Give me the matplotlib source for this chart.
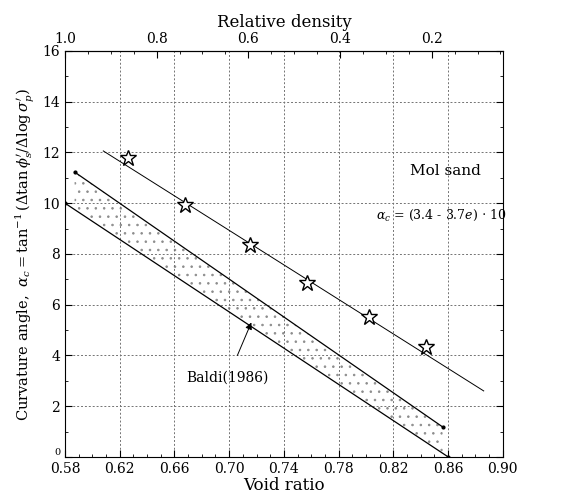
import numpy as np
import matplotlib
matplotlib.use("Agg")
import matplotlib.pyplot as plt
from matplotlib.ticker import MultipleLocator

plt.rcParams['font.family'] = ['DejaVu Serif']
plt.rcParams['mathtext.fontset'] = 'dejavuserif'
plt.rcParams['hatch.color'] = '0.55'
plt.rcParams['hatch.linewidth'] = 0.6

# data
void_ratio_pts = [0.626, 0.668, 0.715, 0.757, 0.802, 0.844]
curv_angle_pts = [11.78, 9.93, 8.35, 6.86, 5.52, 4.33]

mol_fit_e = [0.608, 0.886]
mol_fit_a = [12.06, 2.60]
baldi_upper_e = [0.587, 0.856]
baldi_upper_a = [11.23, 1.18]
baldi_lower_e = [0.580, 0.860]
baldi_lower_a = [10.00, 0.00]

x_ticks = [0.58, 0.62, 0.66, 0.70, 0.74, 0.78, 0.82, 0.86, 0.90]
x_ticklabels = ["0.58", "0.62", "0.66", "0.70", "0.74", "0.78", "0.82", "0.86", "0.90"]
y_ticks = [0, 2, 4, 6, 8, 10, 12, 14, 16]
dr_ticks = [1.0, 0.8, 0.6, 0.4, 0.2]
dr_ticklabels = ["1.0", "0.8", "0.6", "0.4", "0.2"]
e_min, e_max = 0.58, 0.915

fig = plt.figure(figsize=(5.65, 4.95), dpi=100)
ax = fig.add_axes([0.115, 0.077, 0.775, 0.820])

ax.set_xlim(0.58, 0.90)
ax.set_ylim(0, 16)
ax.set_xticks(x_ticks)
ax.set_xticklabels(x_ticklabels)
ax.set_yticks(y_ticks)
ax.xaxis.set_minor_locator(MultipleLocator(0.01))
ax.yaxis.set_minor_locator(MultipleLocator(1))
ax.tick_params(which='both', direction='in', top=False, right=True, labelsize=10)
ax.tick_params(which='major', length=5)
ax.tick_params(which='minor', length=2.5)
ax.grid(True, which='major', color='0.45', linestyle=(0, (2, 2)), linewidth=0.7)

# small "0" label sitting above the x tick labels, as in the reference
ylabels = ax.get_yticklabels()
ylabels[0].set_fontsize(7)
ylabels[0].set_va('bottom')

# shaded band (Baldi 1986)
ee = np.linspace(baldi_upper_e[0], baldi_upper_e[1], 100)
low = np.interp(ee, baldi_lower_e, baldi_lower_a)
up = np.interp(ee, baldi_upper_e, baldi_upper_a)
ax.fill_between(ee, low, up, facecolor='white', hatch='..', linewidth=0)

ax.plot(baldi_upper_e, baldi_upper_a, color='black', lw=0.9, marker='o', ms=2)
ax.plot(baldi_lower_e, baldi_lower_a, color='black', lw=0.9, marker='o', ms=2)
ax.plot(mol_fit_e, mol_fit_a, color='black', lw=0.7)

ax.plot(void_ratio_pts, curv_angle_pts, linestyle='none', marker='*', ms=12,
        mfc='white', mec='black', mew=1.0, zorder=5)

ax.text(0.832, 11.27, "Mol sand", fontsize=11, va='center', ha='left')
ax.text(0.807, 9.5, r"$\alpha_c$ = (3.4 - 3.7$e$) $\cdot$ 10", fontsize=9, va='center', ha='left')
ax.annotate("Baldi(1986)", xy=(0.717, 5.4), xytext=(0.699, 3.11),
            ha='center', va='center', fontsize=10,
            arrowprops=dict(arrowstyle='-|>', color='black', lw=0.7, shrinkA=10))

ax.set_xlabel("Void ratio", fontsize=12, labelpad=1)
ax.set_ylabel(r"Curvature angle,  $\alpha_c = \tan^{-1}(\Delta\tan\phi_s'/\Delta\log\sigma_p')$",
              fontsize=10.5, labelpad=4)

# top axis: relative density
def e_to_dr(e):
    return (e_max - np.asarray(e)) / (e_max - e_min)

def dr_to_e(dr):
    return e_max - np.asarray(dr) * (e_max - e_min)

sec = ax.secondary_xaxis('top', functions=(e_to_dr, dr_to_e))
sec.set_xticks(dr_ticks)
sec.set_xticklabels(dr_ticklabels)
sec.xaxis.set_minor_locator(MultipleLocator(0.05))
sec.tick_params(which='both', direction='in', labelsize=10)
sec.tick_params(which='major', length=5)
sec.tick_params(which='minor', length=2.5)
sec.set_xlabel("Relative density", fontsize=12, labelpad=4)

fig.savefig("out.png", dpi=100)
